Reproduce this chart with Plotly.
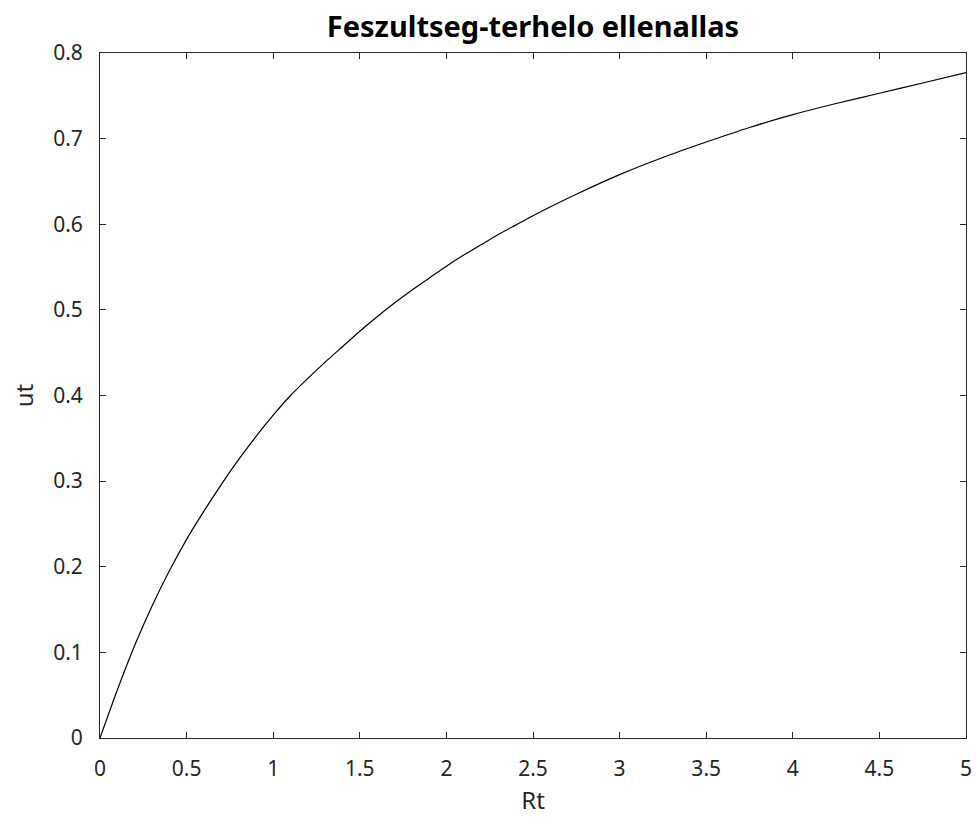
import plotly.graph_objects as go

rt_values = [0.0, 0.1, 0.2, 0.3, 0.4, 0.5, 0.6, 0.7, 0.8, 0.9,
             1.0, 1.1, 1.2, 1.3, 1.4, 1.5, 1.6, 1.7, 1.8, 1.9,
             2.0, 2.1, 2.2, 2.3, 2.4, 2.5, 2.75, 3.0, 3.25, 3.5,
             3.75, 4.0, 4.25, 4.5, 4.75, 5.0]
ut_values = [0.0, 0.056, 0.108, 0.154, 0.195, 0.232, 0.265, 0.296, 0.325, 0.352,
             0.377, 0.400, 0.420, 0.439, 0.457, 0.475, 0.492, 0.508, 0.523, 0.537,
             0.551, 0.564, 0.576, 0.588, 0.599, 0.610, 0.635, 0.658, 0.678, 0.696,
             0.713, 0.728, 0.741, 0.753, 0.765, 0.777]
x_ticks = [0, 0.5, 1, 1.5, 2, 2.5, 3, 3.5, 4, 4.5, 5]
x_tick_labels = ["0", "0.5", "1", "1.5", "2", "2.5", "3", "3.5", "4", "4.5", "5"]
y_ticks = [0, 0.1, 0.2, 0.3, 0.4, 0.5, 0.6, 0.7, 0.8]
y_tick_labels = ["0", "0.1", "0.2", "0.3", "0.4", "0.5", "0.6", "0.7", "0.8"]

axis_color = "#262626"
font_family = "Noto Sans, Open Sans, sans-serif"

fig = go.Figure()
fig.add_trace(go.Scatter(
    x=rt_values, y=ut_values, mode="lines",
    line=dict(color="black", width=1.2, shape="spline", smoothing=0.6),
    showlegend=False, hoverinfo="x+y",
))

axis_common = dict(
    showline=True, linecolor=axis_color, linewidth=1, mirror="ticks",
    ticks="inside", ticklen=6, tickcolor=axis_color, tickwidth=1,
    showgrid=False, zeroline=False, ticklabeloverflow="allow", automargin=False,
    tickfont=dict(family=font_family, size=21, color=axis_color),
)

W, H = 976, 824
fig.update_layout(
    width=W, height=H,
    margin=dict(l=100, r=10, t=53, b=86, autoexpand=False),
    paper_bgcolor="white", plot_bgcolor="white",
    title=dict(text="<b>Feszultseg-terhelo ellenallas</b>", x=0.5, xref="paper",
               y=1 - 27 / H, yanchor="middle", automargin=False,
               font=dict(family=font_family, size=29, color="black")),
    xaxis=dict(range=[0, 5], tickvals=x_ticks, ticktext=x_tick_labels,
               title=dict(text="Rt", font=dict(family=font_family, size=24, color=axis_color), standoff=10),
               ticklabelstandoff=12, **axis_common),
    yaxis=dict(range=[0, 0.8], tickvals=y_ticks, ticktext=y_tick_labels,
               title=dict(text="ut", font=dict(family=font_family, size=24, color=axis_color), standoff=12),
               ticklabelstandoff=12, **axis_common),
)

fig.write_html(
    "out.html",
    config={"displayModeBar": False},
    post_script="document.body.style.margin='0';document.body.style.overflow='hidden';",
)
